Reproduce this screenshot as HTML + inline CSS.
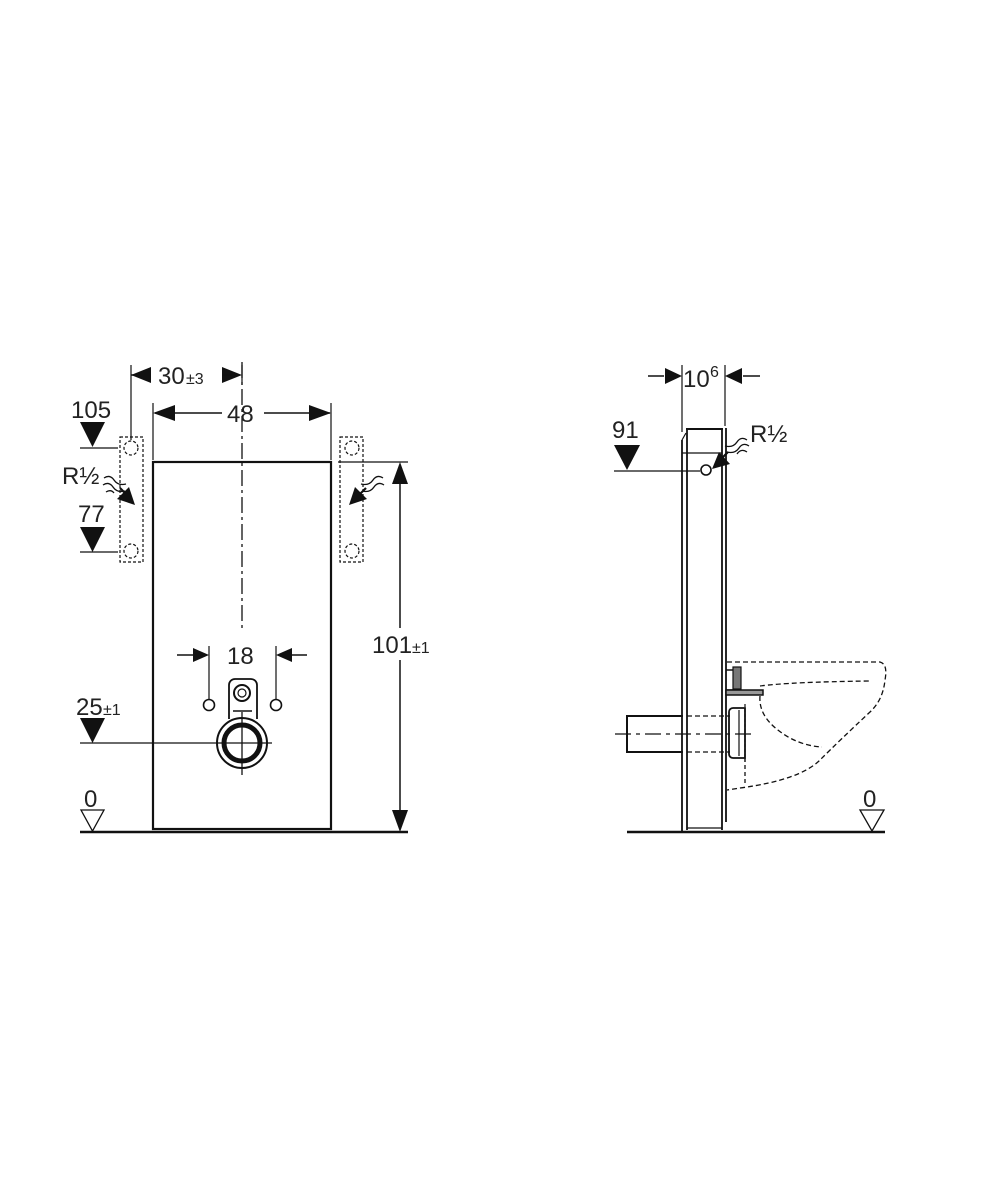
<!DOCTYPE html>
<html><head><meta charset="utf-8"><style>
html,body{margin:0;padding:0;background:#fff;}
svg{display:block;}
text{font-family:"Liberation Sans",sans-serif;fill:#222;}
</style></head><body>
<svg width="1000" height="1200" viewBox="0 0 1000 1200" xmlns="http://www.w3.org/2000/svg">
<g stroke="#111" fill="none">
<!-- LEFT VIEW -->
<line x1="80" y1="832" x2="408" y2="832" stroke-width="2.5"/>
<rect x="153" y="462" width="178" height="367" stroke-width="2.2"/>
<line x1="242" y1="362" x2="242" y2="630" stroke-width="1.3" stroke-dasharray="16,4,3,4"/>
<line x1="131" y1="365" x2="131" y2="440" stroke-width="1.2"/>
<line x1="242" y1="365" x2="242" y2="385" stroke-width="1.2"/>
<line x1="150" y1="375" x2="131" y2="375" stroke-width="1.5"/>
<path d="M131,375 l20,-8 v16z" fill="#111" stroke="none"/>
<path d="M242,375 l-20,-8 v16z" fill="#111" stroke="none"/>
<line x1="222" y1="375" x2="232" y2="375" stroke-width="1.5"/>
<line x1="153" y1="403" x2="153" y2="460" stroke-width="1.2"/>
<line x1="331" y1="403" x2="331" y2="460" stroke-width="1.2"/>
<line x1="155" y1="413" x2="222" y2="413" stroke-width="1.5"/>
<line x1="264" y1="413" x2="330" y2="413" stroke-width="1.5"/>
<path d="M153,413 l22,-8 v16z" fill="#111" stroke="none"/>
<path d="M331,413 l-22,-8 v16z" fill="#111" stroke="none"/>
<rect x="120" y="437" width="23" height="125" stroke-width="1.2" stroke-dasharray="3,2"/>
<rect x="340" y="437" width="23" height="125" stroke-width="1.2" stroke-dasharray="3,2"/>
<circle cx="131" cy="448" r="7" stroke-width="1.2" stroke-dasharray="3,2"/>
<circle cx="131" cy="551" r="7" stroke-width="1.2" stroke-dasharray="3,2"/>
<circle cx="352" cy="448" r="7" stroke-width="1.2" stroke-dasharray="3,2"/>
<circle cx="352" cy="551" r="7" stroke-width="1.2" stroke-dasharray="3,2"/>
<line x1="80" y1="448" x2="118" y2="448" stroke-width="1.2"/>
<line x1="80" y1="552" x2="118" y2="552" stroke-width="1.2"/>
<path d="M80,422 h25 l-12.5,25z" fill="#111" stroke="none"/>
<path d="M80,527 h25 l-12.5,25z" fill="#111" stroke="none"/>
<path d="M104,478 q6,-4 10,2 t12,4 M103,485 q6,-4 10,2 t12,4 M106,492 q5,-3 8,1" stroke-width="1.3"/>
<path d="M120,488 l12,12" stroke-width="2.2"/>
<path d="M135,505 l-18,-6 l12,-12z" fill="#111" stroke="none"/>
<path d="M383,478 q-6,-4 -10,2 t-12,4 M384,485 q-6,-4 -10,2 t-12,4" stroke-width="1.3"/>
<path d="M366,488 l-12,12" stroke-width="2.2"/>
<path d="M349,505 l18,-6 l-12,-12z" fill="#111" stroke="none"/>
<line x1="338" y1="462" x2="408" y2="462" stroke-width="1.2"/>
<line x1="400" y1="470" x2="400" y2="628" stroke-width="1.5"/>
<line x1="400" y1="660" x2="400" y2="825" stroke-width="1.5"/>
<path d="M400,462 l-8,22 h16z" fill="#111" stroke="none"/>
<path d="M400,832 l-8,-22 h16z" fill="#111" stroke="none"/>
<line x1="209" y1="646" x2="209" y2="700" stroke-width="1.2"/>
<line x1="276" y1="646" x2="276" y2="700" stroke-width="1.2"/>
<line x1="177" y1="655" x2="195" y2="655" stroke-width="1.5"/>
<path d="M209,655 l-16,-7 v14z" fill="#111" stroke="none"/>
<line x1="290" y1="655" x2="307" y2="655" stroke-width="1.5"/>
<path d="M276,655 l16,-7 v14z" fill="#111" stroke="none"/>
<circle cx="209" cy="705" r="5.5" stroke-width="1.6"/>
<circle cx="276" cy="705" r="5.5" stroke-width="1.6"/>
<path d="M229,719 v-34 a6,6 0 0 1 6,-6 h16 a6,6 0 0 1 6,6 v34" stroke-width="1.8"/>
<circle cx="242" cy="693" r="8" stroke-width="2"/>
<circle cx="242" cy="693" r="4" stroke-width="1.2"/>
<line x1="233" y1="711" x2="252" y2="711" stroke-width="1.5"/>
<circle cx="242" cy="743" r="25" stroke-width="2" fill="#fff"/>
<circle cx="242" cy="743" r="18" stroke-width="5"/>
<line x1="80" y1="743" x2="272" y2="743" stroke-width="1.3"/>
<line x1="242" y1="712" x2="242" y2="775" stroke-width="1.3"/>
<path d="M80,718 h25 l-12.5,25z" fill="#111" stroke="none"/>
<path d="M81,810 h23 l-11.5,21z" stroke-width="1.3"/>
<!-- RIGHT VIEW -->
<line x1="627" y1="832" x2="885" y2="832" stroke-width="2.5"/>
<line x1="682" y1="440" x2="682" y2="832" stroke-width="1.8"/>
<line x1="687" y1="430" x2="687" y2="830" stroke-width="1.8"/>
<line x1="686" y1="429" x2="723" y2="429" stroke-width="2"/>
<line x1="722" y1="429" x2="722" y2="830" stroke-width="1.8"/>
<line x1="726" y1="428" x2="726" y2="822" stroke-width="1.8"/>
<line x1="687" y1="828" x2="722" y2="828" stroke-width="1.2"/>
<line x1="682" y1="453" x2="722" y2="453" stroke-width="1.2"/>
<line x1="682" y1="440" x2="686" y2="433" stroke-width="1.2"/>
<line x1="682" y1="365" x2="682" y2="432" stroke-width="1.2"/>
<line x1="725" y1="365" x2="725" y2="426" stroke-width="1.2"/>
<line x1="648" y1="376" x2="664" y2="376" stroke-width="1.5"/>
<path d="M682,376 l-17,-8 v16z" fill="#111" stroke="none"/>
<line x1="743" y1="376" x2="760" y2="376" stroke-width="1.5"/>
<path d="M725,376 l17,-8 v16z" fill="#111" stroke="none"/>
<path d="M614,445 h26 l-13,25z" fill="#111" stroke="none"/>
<line x1="614" y1="471" x2="700" y2="471" stroke-width="1.2"/>
<circle cx="706" cy="470" r="5" stroke-width="1.6"/>
<path d="M747,440 q-6,-4 -10,2 t-12,4 M749,446 q-6,-4 -10,2 t-12,4 M747,452 q-6,-4 -10,2" stroke-width="1.3"/>
<path d="M728,452 l-10,10" stroke-width="2.2"/>
<path d="M712,469 l18,-5 l-11,-12z" fill="#111" stroke="none"/>
<path d="M683,716 H627 V752 H683" stroke-width="2"/>
<line x1="687" y1="716" x2="730" y2="716" stroke-width="1.3" stroke-dasharray="5,3"/>
<line x1="687" y1="752" x2="730" y2="752" stroke-width="1.3" stroke-dasharray="5,3"/>
<line x1="615" y1="734" x2="752" y2="734" stroke-width="1.3" stroke-dasharray="16,5,4,5"/>
<path d="M733,708 h12 v50 h-12 a4,4 0 0 1 -4,-4 v-42 a4,4 0 0 1 4,-4z" stroke-width="1.8"/>
<line x1="739" y1="710" x2="739" y2="756" stroke-width="1.2"/>
<line x1="745" y1="704" x2="745" y2="762" stroke-width="1.2" stroke-dasharray="3,2"/>
<path d="M726,670 h12 v20 h-12" stroke-width="1.5"/>
<rect x="733" y="667" width="8" height="22" stroke-width="1.2" fill="#777"/>
<rect x="726" y="690" width="37" height="5" stroke-width="1.5" fill="#999"/>
<path d="M727,662 H880 Q888,664 885,680 Q883,700 870,712 Q840,740 820,760 Q800,780 740,788 L727,790" stroke-width="1.3" stroke-dasharray="5,3"/>
<path d="M760,686 Q790,682 870,681" stroke-width="1.3" stroke-dasharray="5,3"/>
<path d="M760,696 Q758,720 790,738 Q805,746 822,747" stroke-width="1.3" stroke-dasharray="5,3"/>
<line x1="745" y1="758" x2="745" y2="786" stroke-width="1.3" stroke-dasharray="4,3"/>
<path d="M860,810 h24 l-12,21z" stroke-width="1.3"/>
</g>
<g font-size="24">
<text x="158" y="384">30</text><text x="186" y="384" font-size="16">±3</text>
<text x="227" y="422">48</text>
<text x="71" y="418">105</text>
<text x="78" y="522">77</text>
<text x="62" y="484">R½</text>
<text x="372" y="653">101</text><text x="412" y="653" font-size="16">±1</text>
<text x="227" y="664">18</text>
<text x="76" y="715">25</text><text x="103" y="715" font-size="16">±1</text>
<text x="84" y="807">0</text>
<text x="683" y="387">10</text><text x="710" y="377" font-size="16">6</text>
<text x="612" y="438">91</text>
<text x="750" y="442">R½</text>
<text x="863" y="807">0</text>
</g>
</svg>
</body></html>
